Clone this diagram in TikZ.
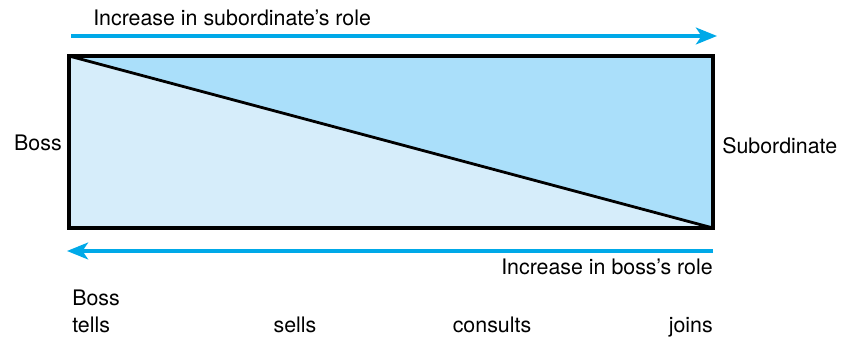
\documentclass[tikz,border=0pt]{standalone}
\usepackage{fontspec}
\setmainfont{TeX Gyre Heros}
\usetikzlibrary{arrows.meta,positioning}
\definecolor{arrowblue}{RGB}{0,169,232}
\definecolor{bosspart}{RGB}{214,237,250}
\definecolor{subpart}{RGB}{170,223,250}

\begin{document}
\begin{tikzpicture}[
    x=0.025cm, y=-0.025cm,
    % styles
    label/.style={font=\fontsize{15.2}{18}\selectfont, inner sep=0pt},
    frame/.style={draw=black, line width=2.3pt, line join=miter},
    divide/.style={draw=black, line width=2pt},
    role/.style={draw=arrowblue, line width=2.2pt, -{Stealth[length=15pt, width=12pt, inset=4pt]}},
]

\useasboundingbox (0,0) rectangle (844,339);

% ============================================================
% Box corners
% ============================================================
\coordinate (tl) at (69,56);
\coordinate (tr) at (713,56);
\coordinate (br) at (713,228);
\coordinate (bl) at (69,228);

% Shaded halves
\fill[bosspart] (tl) -- (br) -- (bl) -- cycle;
\fill[subpart] (tl) -- (tr) -- (br) -- cycle;
\draw[divide] (tl) -- (br);
\draw[frame] (tl) rectangle (br);

% ============================================================
% Role arrows
% ============================================================
\coordinate (topstart) at (71,36);
\coordinate (topend) at (717,36);
\coordinate (botstart) at (713,251);
\coordinate (botend) at (67,251);
\draw[role] (topstart) -- (topend);
\draw[role] (botstart) -- (botend);

\node[label, anchor=base west] (subrole) at (93,26) {Increase in subordinate’s role};
\node[label, anchor=base east] (bossrole) at (713,275) {Increase in boss’s role};

% ============================================================
% Side labels
% ============================================================
\node[label, anchor=base east] (boss) at (62,151) {Boss};
\node[label, anchor=base west] (sub) at (722,154) {Subordinate};

% ============================================================
% Styles of leadership
% ============================================================
\node[label, anchor=base west] (bossword) at (72,306) {Boss};
\node[label, anchor=base west] (tells) at (72,333) {tells};
\node[label, anchor=base] (sells) at (295,333) {sells};
\node[label, anchor=base] (consults) at (492,333) {consults};
\node[label, anchor=base east] (joins) at (713,333) {joins};

\end{tikzpicture}
\end{document}
